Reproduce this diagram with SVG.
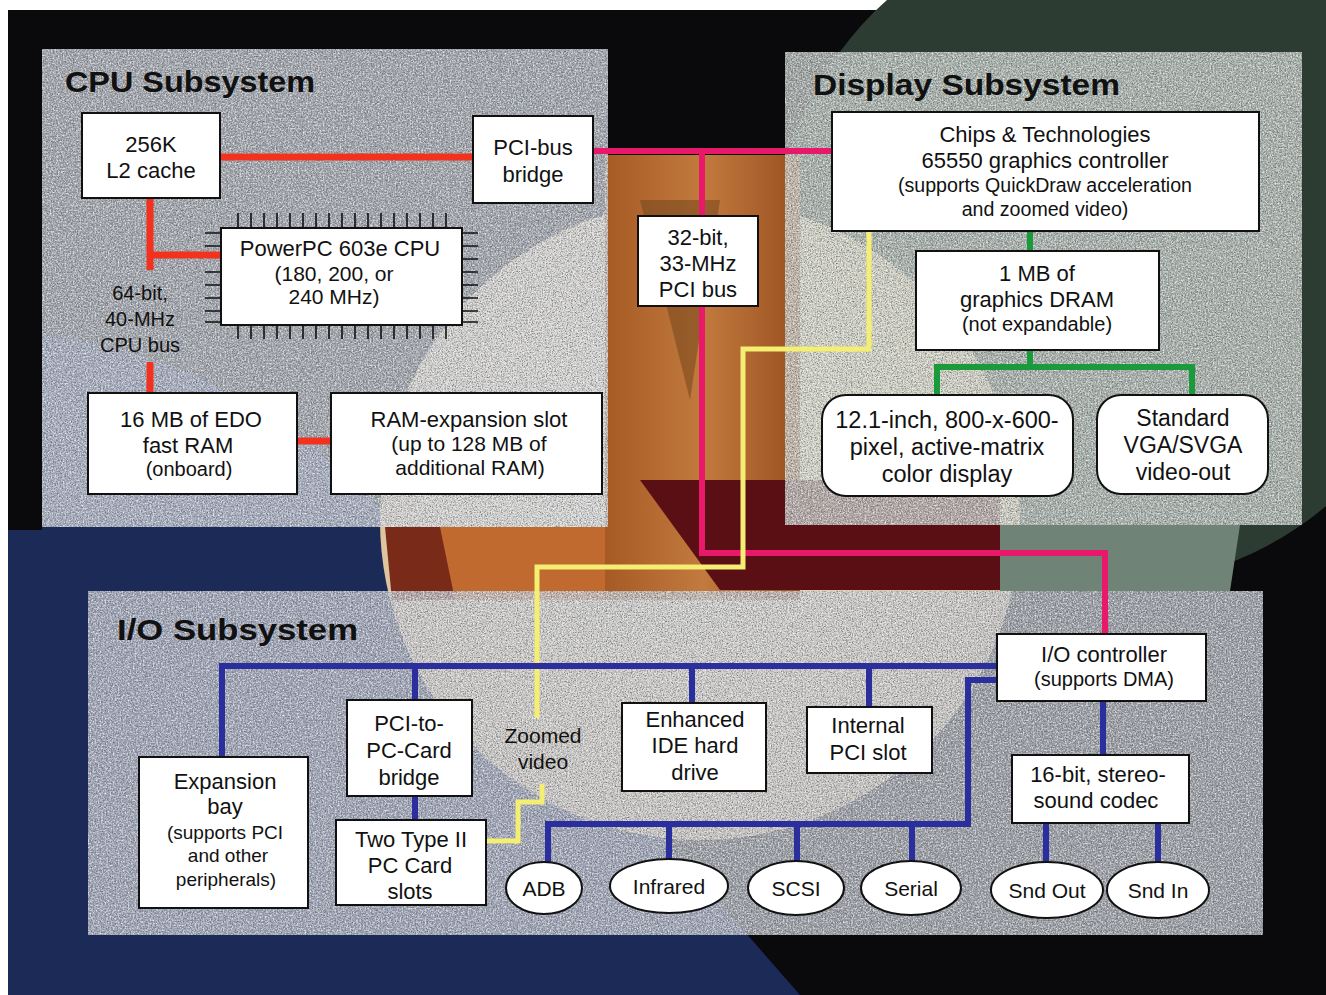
<svg xmlns="http://www.w3.org/2000/svg" width="1326" height="995" viewBox="0 0 1326 995">
<defs>
<style>
.box{fill:#ffffff;stroke:#111;stroke-width:2}
.t{font-family:"Liberation Sans",Arial,sans-serif;font-size:22px;fill:#111;text-anchor:middle}
.title{font-family:"Liberation Sans",Arial,sans-serif;font-weight:bold;font-size:30px;fill:#111}
.red{stroke:#f2321e;stroke-width:7;fill:none}
.pink{stroke:#e8186a;stroke-width:6;fill:none}
.yel{stroke:#f4ee72;stroke-width:5;fill:none}
.blue{stroke:#2b2f9e;stroke-width:6;fill:none}
.green{stroke:#1a9a3a;stroke-width:6;fill:none}
.pin{stroke:#111;stroke-width:1.6}
</style>
<filter id="grain" x="0" y="0" width="100%" height="100%">
<feTurbulence type="fractalNoise" baseFrequency="0.8" numOctaves="3" seed="7"/>
<feColorMatrix type="matrix" values="0 0 0 0 0.12  0 0 0 0 0.12  0 0 0 0 0.14  0 0 0 1.8 -0.72"/>
<feComposite operator="in" in2="SourceGraphic"/>
</filter>
<filter id="grainl" x="0" y="0" width="100%" height="100%">
<feTurbulence type="fractalNoise" baseFrequency="0.6" numOctaves="2" seed="21"/>
<feColorMatrix type="matrix" values="0 0 0 0 1  0 0 0 0 1  0 0 0 0 1  0 0 0 1.8 -0.75"/>
<feComposite operator="in" in2="SourceGraphic"/>
</filter>
<radialGradient id="sphere" cx="0.45" cy="0.45" r="0.6">
<stop offset="0" stop-color="#f2e2c4"/>
<stop offset="0.8" stop-color="#dcc39c"/>
<stop offset="0.97" stop-color="#c9ad88"/>
<stop offset="1" stop-color="#f4efe6"/>
</radialGradient>
<linearGradient id="cyl" x1="0" y1="0" x2="1" y2="0">
<stop offset="0" stop-color="#a65a24"/>
<stop offset="0.5" stop-color="#c27a3e"/>
<stop offset="1" stop-color="#9a5020"/>
</linearGradient>
</defs>

<g id="background">
<rect x="0" y="0" width="1326" height="995" fill="#ffffff"/>
<rect x="8" y="10" width="1318" height="985" fill="#0a0a0c"/>
<path d="M8 330 C 160 340 330 420 420 560 L 800 995 L 8 995 Z" fill="#1c2a58"/>
<rect x="8" y="10" width="34" height="520" fill="#0a0a0c"/>
<circle cx="1110" cy="250" r="335" fill="#2c3c33"/>
<circle cx="700" cy="520" r="320" fill="url(#sphere)"/>
<path d="M385 527 L800 527 L800 600 L392 600 Z" fill="#7a2a18"/>
<path d="M440 527 L800 527 L800 600 L455 600 Z" fill="#c06a30"/>
<rect x="605" y="155" width="195" height="445" fill="url(#cyl)"/>
<path d="M640 480 L1000 480 L1000 590 L720 590 Z" fill="#5a0f14"/>
<path d="M1000 525 L1240 525 L1230 591 L1000 591 Z" fill="#6f8476"/>
<path d="M640 200 L720 200 L690 400 Z" fill="#7a4a1e" opacity="0.6"/>
</g>

<g id="panels">
<rect x="42" y="49" width="566" height="478" fill="#d0d6de" opacity="0.74"/>
<rect x="42" y="49" width="566" height="478" fill="#000" filter="url(#grain)"/>
<rect x="42" y="49" width="566" height="478" fill="#fff" filter="url(#grainl)"/>
<rect x="785" y="52" width="517" height="473" fill="#cdd6cf" opacity="0.74"/>
<rect x="785" y="52" width="517" height="473" fill="#000" filter="url(#grain)"/>
<rect x="785" y="52" width="517" height="473" fill="#fff" filter="url(#grainl)"/>
<rect x="88" y="591" width="1175" height="344" fill="#c6ccd4" opacity="0.74"/>
<rect x="88" y="591" width="1175" height="344" fill="#000" filter="url(#grain)"/>
<rect x="88" y="591" width="1175" height="344" fill="#fff" filter="url(#grainl)"/>
<text class="title" x="65" y="92" textLength="250" lengthAdjust="spacingAndGlyphs">CPU Subsystem</text>
<text class="title" x="813" y="95" textLength="307" lengthAdjust="spacingAndGlyphs">Display Subsystem</text>
<text class="title" x="117" y="640" textLength="241" lengthAdjust="spacingAndGlyphs">I/O Subsystem</text>
</g>

<g id="connectors">
<path class="red" d="M220 157 H473"/>
<path class="red" d="M150 198 V270"/>
<path class="red" d="M150 255 H221"/>
<path class="red" d="M150 362 V393"/>
<path class="red" d="M297 441 H330"/>
<path class="pink" d="M593 151 H832"/>
<path class="pink" d="M702 151 V217"/>
<path class="pink" d="M702 306 V553 H1105 V634"/>
<path class="yel" d="M869 231 V349 H743 V567 H537 V718"/>
<path class="yel" d="M542 784 V802 H518 V841 H487"/>
<path class="blue" d="M222 757 V666 H997"/>
<path class="blue" d="M415 666 V700"/>
<path class="blue" d="M692 666 V703"/>
<path class="blue" d="M869 666 V707"/>
<path class="blue" d="M415 796 V820"/>
<path class="blue" d="M997 680 H968 V824 H548 V862"/>
<path class="blue" d="M669 824 V860"/>
<path class="blue" d="M797 824 V861"/>
<path class="blue" d="M912 824 V861"/>
<path class="blue" d="M1103 700 V755"/>
<path class="blue" d="M1046 823 V862"/>
<path class="blue" d="M1158 823 V862"/>
<path class="green" d="M1030 231 V251"/>
<path class="green" d="M1030 350 V367"/>
<path class="green" d="M937 395 V367 H1192 V395"/>
</g>

<g id="bus-label">
<text class="t" x="140" y="300" style="font-size:20px">64-bit,</text>
<text class="t" x="140" y="326" style="font-size:20px">40-MHz</text>
<text class="t" x="140" y="352" style="font-size:20px">CPU bus</text>
</g>

<g id="l2cache">
<rect class="box" x="82" y="113" width="138" height="85"/>
<text class="t" x="151" y="152">256K</text>
<text class="t" x="151" y="178">L2 cache</text>
</g>
<g id="pcibridge">
<rect class="box" x="473" y="116" width="120" height="87"/>
<text class="t" x="533" y="155">PCI-bus</text>
<text class="t" x="533" y="182">bridge</text>
</g>
<g id="cpu">
<g class="pin">
<path d="M238 213V228M251 213V228M264 213V228M277 213V228M290 213V228M303 213V228M316 213V228M329 213V228M342 213V228M355 213V228M368 213V228M381 213V228M394 213V228M407 213V228M420 213V228M433 213V228M446 213V228"/>
<path d="M238 325V339M251 325V339M264 325V339M277 325V339M290 325V339M303 325V339M316 325V339M329 325V339M342 325V339M355 325V339M368 325V339M381 325V339M394 325V339M407 325V339M420 325V339M433 325V339M446 325V339"/>
<path d="M205 233H221M205 246H221M205 272H221M205 285H221M205 298H221M205 311H221M205 322H221"/>
<path d="M462 233H478M462 246H478M462 259H478M462 272H478M462 285H478M462 298H478M462 311H478M462 322H478"/>
</g>
<rect class="box" x="221" y="228" width="241" height="97"/>
<text class="t" x="340" y="256">PowerPC 603e CPU</text>
<text class="t" x="334" y="281" style="font-size:21px">(180, 200, or</text>
<text class="t" x="334" y="304" style="font-size:21px">240 MHz)</text>
</g>
<g id="edoram">
<rect class="box" x="88" y="393" width="209" height="101"/>
<text class="t" x="191" y="427">16 MB of EDO</text>
<text class="t" x="188" y="453">fast RAM</text>
<text class="t" x="189" y="476" style="font-size:20px">(onboard)</text>
</g>
<g id="ramslot">
<rect class="box" x="331" y="393" width="271" height="101"/>
<text class="t" x="469" y="427">RAM-expansion slot</text>
<text class="t" x="469" y="451" style="font-size:21px">(up to 128 MB of</text>
<text class="t" x="470" y="475" style="font-size:21px">additional RAM)</text>
</g>
<g id="pcibus">
<rect class="box" x="638" y="216" width="120" height="90"/>
<text class="t" x="698" y="245">32-bit,</text>
<text class="t" x="698" y="271">33-MHz</text>
<text class="t" x="698" y="297">PCI bus</text>
</g>
<g id="graphics">
<rect class="box" x="832" y="112" width="427" height="119"/>
<text class="t" x="1045" y="142">Chips &amp; Technologies</text>
<text class="t" x="1045" y="168">65550 graphics controller</text>
<text class="t" x="1045" y="192" style="font-size:19.6px">(supports QuickDraw acceleration</text>
<text class="t" x="1045" y="216" style="font-size:19.6px">and  zoomed video)</text>
</g>
<g id="dram">
<rect class="box" x="916" y="251" width="243" height="99"/>
<text class="t" x="1037" y="281">1 MB of</text>
<text class="t" x="1037" y="307">graphics DRAM</text>
<text class="t" x="1037" y="331" style="font-size:20px">(not expandable)</text>
</g>
<g id="display">
<rect class="box" x="822" y="395" width="251" height="101" rx="24"/>
<text class="t" x="947" y="428" style="font-size:23.5px">12.1-inch, 800-x-600-</text>
<text class="t" x="947" y="455" style="font-size:23.5px">pixel, active-matrix</text>
<text class="t" x="947" y="482" style="font-size:23.5px">color display</text>
</g>
<g id="vga">
<rect class="box" x="1097" y="395" width="171" height="99" rx="24"/>
<text class="t" x="1183" y="426" style="font-size:23px">Standard</text>
<text class="t" x="1183" y="453" style="font-size:23px">VGA/SVGA</text>
<text class="t" x="1183" y="480" style="font-size:23px">video-out</text>
</g>
<g id="iocontroller">
<rect class="box" x="997" y="634" width="209" height="67"/>
<text class="t" x="1104" y="662">I/O controller</text>
<text class="t" x="1104" y="686" style="font-size:20px">(supports DMA)</text>
</g>
<g id="codec">
<rect class="box" x="1012" y="755" width="177" height="68"/>
<text class="t" x="1098" y="782">16-bit, stereo-</text>
<text class="t" x="1096" y="808">sound codec</text>
</g>
<g id="expansionbay">
<rect class="box" x="139" y="757" width="169" height="151"/>
<text class="t" x="225" y="789">Expansion</text>
<text class="t" x="225" y="814">bay</text>
<text class="t" x="225" y="839" style="font-size:19px">(supports PCI</text>
<text class="t" x="228" y="862" style="font-size:19px">and other</text>
<text class="t" x="226" y="886" style="font-size:19px">peripherals)</text>
</g>
<g id="pccardbridge">
<rect class="box" x="347" y="700" width="125" height="96"/>
<text class="t" x="409" y="731">PCI-to-</text>
<text class="t" x="409" y="758">PC-Card</text>
<text class="t" x="409" y="785">bridge</text>
</g>
<g id="pccardslots">
<rect class="box" x="336" y="820" width="150" height="85"/>
<text class="t" x="411" y="847">Two Type II</text>
<text class="t" x="410" y="873">PC Card</text>
<text class="t" x="410" y="899">slots</text>
</g>
<g id="zoomedvideo">
<text class="t" x="543" y="743" style="font-size:21px">Zoomed</text>
<text class="t" x="543" y="769" style="font-size:21px">video</text>
</g>
<g id="ide">
<rect class="box" x="622" y="703" width="144" height="88"/>
<text class="t" x="695" y="727">Enhanced</text>
<text class="t" x="695" y="753">IDE hard</text>
<text class="t" x="695" y="780">drive</text>
</g>
<g id="internalpci">
<rect class="box" x="807" y="707" width="125" height="66"/>
<text class="t" x="868" y="733">Internal</text>
<text class="t" x="868" y="760">PCI slot</text>
</g>
<g id="adb">
<ellipse class="box" cx="544" cy="888" rx="38" ry="26"/>
<text class="t" x="544" y="896" style="font-size:21px">ADB</text>
</g>
<g id="infrared">
<ellipse class="box" cx="669" cy="886" rx="59" ry="27"/>
<text class="t" x="669" y="894" style="font-size:21px">Infrared</text>
</g>
<g id="scsi">
<ellipse class="box" cx="796" cy="888" rx="48" ry="27"/>
<text class="t" x="796" y="896" style="font-size:21px">SCSI</text>
</g>
<g id="serial">
<ellipse class="box" cx="911" cy="888" rx="50" ry="27"/>
<text class="t" x="911" y="896" style="font-size:21px">Serial</text>
</g>
<g id="sndout">
<ellipse class="box" cx="1047" cy="890" rx="56" ry="28"/>
<text class="t" x="1047" y="898" style="font-size:21px">Snd Out</text>
</g>
<g id="sndin">
<ellipse class="box" cx="1158" cy="890" rx="51" ry="28"/>
<text class="t" x="1158" y="898" style="font-size:21px">Snd In</text>
</g>
</svg>
